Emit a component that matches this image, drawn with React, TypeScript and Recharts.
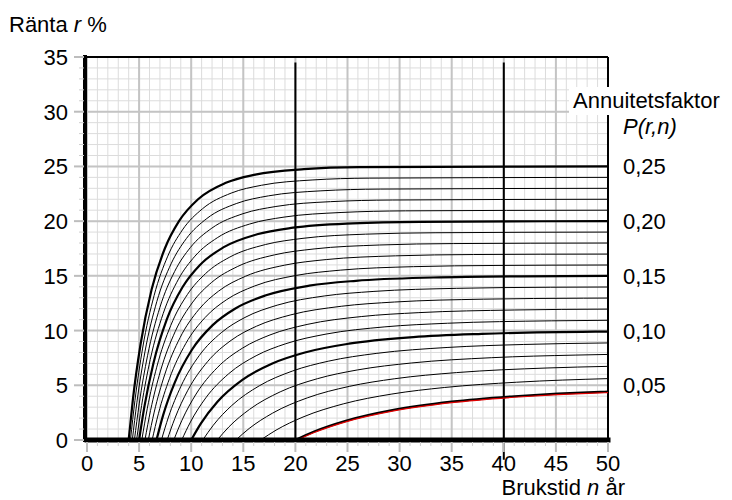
import { CartesianGrid, Line, LineChart, ReferenceLine, XAxis, YAxis } from "recharts";

// tick labels and grid positions
const xTicks = [0, 5, 10, 15, 20, 25, 30, 35, 40, 45, 50];
const yTicks = [0, 5, 10, 15, 20, 25, 30, 35];
const minorN = Array.from({ length: 51 }, (_, i) => i);
const minorR = Array.from({ length: 36 }, (_, i) => i);
const pLevels = [5, 10, 15, 20, 25];
const pLabels = ["0,05", "0,10", "0,15", "0,20", "0,25"];

// curves of constant annuity factor, points read as [n år, r %]
const P05: [number, number][] = [[20, 0], [21.75, 0.75], [24.83, 1.75], [29.43, 2.75], [35, 3.5], [41.03, 4], [49.24, 4.4], [50, 4.42]];
const P06: [number, number][] = [[16.67, 0], [18.14, 0.9], [20.73, 2.1], [24.59, 3.3], [29.26, 4.2], [34.33, 4.8], [41.21, 5.28], [50, 5.61]];
const P07: [number, number][] = [[14.29, 0], [15.56, 1.05], [17.8, 2.45], [21.14, 3.85], [25.17, 4.9], [29.54, 5.6], [35.47, 6.16], [44.15, 6.58], [50, 6.73]];
const P08: [number, number][] = [[12.5, 0], [13.62, 1.2], [15.6, 2.8], [18.54, 4.4], [22.1, 5.6], [25.94, 6.4], [31.17, 7.04], [38.8, 7.52], [46.92, 7.76], [50, 7.82]];
const P09: [number, number][] = [[11.11, 0], [12.12, 1.35], [13.89, 3.15], [16.53, 4.95], [19.71, 6.3], [23.15, 7.2], [27.82, 7.92], [34.64, 8.46], [41.9, 8.73], [50, 8.87]];
const P10: [number, number][] = [[10, 0], [10.92, 1.5], [12.52, 3.5], [14.91, 5.5], [17.79, 7], [20.91, 8], [25.14, 8.8], [31.32, 9.4], [37.88, 9.7], [48.78, 9.9], [50, 9.91]];
const P11: [number, number][] = [[9.09, 0], [9.93, 1.65], [11.4, 3.85], [13.59, 6.05], [16.23, 7.7], [19.08, 8.8], [22.95, 9.68], [28.59, 10.34], [34.59, 10.67], [44.55, 10.89], [50, 10.94]];
const P12: [number, number][] = [[8.33, 0], [9.11, 1.8], [10.47, 4.2], [12.49, 6.6], [14.93, 8.4], [17.56, 9.6], [21.12, 10.56], [26.32, 11.28], [31.85, 11.64], [41.02, 11.88], [50, 11.96]];
const P13: [number, number][] = [[7.69, 0], [8.42, 1.95], [9.68, 4.55], [11.56, 7.15], [13.82, 9.1], [16.27, 10.4], [19.57, 11.44], [24.4, 12.22], [29.53, 12.61], [38.04, 12.87], [47.67, 12.96], [50, 12.97]];
const P14: [number, number][] = [[7.14, 0], [7.82, 2.1], [9.01, 4.9], [10.76, 7.7], [12.88, 9.8], [15.16, 11.2], [18.25, 12.32], [22.76, 13.16], [27.54, 13.58], [35.48, 13.86], [44.46, 13.96], [50, 13.98]];
const P15: [number, number][] = [[6.67, 0], [7.3, 2.25], [8.42, 5.25], [10.07, 8.25], [12.06, 10.5], [14.2, 12], [17.1, 13.2], [21.33, 14.1], [25.81, 14.55], [33.26, 14.85], [41.68, 14.96], [50, 14.99]];
const P16: [number, number][] = [[6.25, 0], [6.85, 2.4], [7.91, 5.6], [9.47, 8.8], [11.34, 11.2], [13.36, 12.8], [16.1, 14.08], [20.08, 15.04], [24.3, 15.52], [31.32, 15.84], [39.25, 15.95], [50, 15.99]];
const P17: [number, number][] = [[5.88, 0], [6.45, 2.55], [7.45, 5.95], [8.93, 9.35], [10.71, 11.9], [12.62, 13.6], [15.21, 14.96], [18.98, 15.98], [22.97, 16.49], [29.61, 16.83], [37.1, 16.95], [50, 16.99]];
const P18: [number, number][] = [[5.56, 0], [6.1, 2.7], [7.05, 6.3], [8.46, 9.9], [10.15, 12.6], [11.96, 14.4], [14.42, 15.84], [18, 16.92], [21.79, 17.46], [28.08, 17.82], [35.19, 17.95], [50, 18]];
const P19: [number, number][] = [[5.26, 0], [5.78, 2.85], [6.69, 6.65], [8.03, 10.45], [9.64, 13.3], [11.37, 15.2], [13.71, 16.72], [17.12, 17.86], [20.73, 18.43], [26.72, 18.81], [33.49, 18.94], [50, 19]];
const P20: [number, number][] = [[5, 0], [5.5, 3], [6.37, 7], [7.65, 11], [9.19, 14], [10.84, 16], [13.08, 17.6], [16.33, 18.8], [19.78, 19.4], [25.49, 19.8], [31.95, 19.94], [50, 20]];
const P21: [number, number][] = [[4.76, 0], [5.24, 3.15], [6.07, 7.35], [7.31, 11.55], [8.78, 14.7], [10.36, 16.8], [12.5, 18.48], [15.62, 19.74], [18.91, 20.37], [24.38, 20.79], [30.56, 20.94], [50, 21]];
const P22: [number, number][] = [[4.55, 0], [5.01, 3.3], [5.81, 7.7], [6.99, 12.1], [8.41, 15.4], [9.93, 17.6], [11.98, 19.36], [14.97, 20.68], [18.13, 21.34], [23.37, 21.78], [29.29, 21.93], [50, 22]];
const P23: [number, number][] = [[4.35, 0], [4.79, 3.45], [5.56, 8.05], [6.7, 12.65], [8.07, 16.1], [9.53, 18.4], [11.5, 20.24], [14.37, 21.62], [17.41, 22.31], [22.45, 22.77], [28.14, 22.93], [50, 23]];
const P24: [number, number][] = [[4.17, 0], [4.6, 3.6], [5.34, 8.4], [6.44, 13.2], [7.75, 16.8], [9.16, 19.2], [11.07, 21.12], [13.83, 22.56], [16.75, 23.28], [21.6, 23.76], [27.08, 23.93], [50, 24]];
const P25: [number, number][] = [[4, 0], [4.41, 3.75], [5.14, 8.75], [6.2, 13.75], [7.47, 17.5], [8.83, 20], [10.66, 22], [13.33, 23.5], [16.15, 24.25], [20.82, 24.75], [26.1, 24.93], [50, 25]];

const curves = [P05, P06, P07, P08, P09, P10, P11, P12, P13, P14, P15, P16, P17, P18, P19, P20, P21, P22, P23, P24, P25];

const font = "'Liberation Sans', Arial, Helvetica, sans-serif";
const fs = 22;
const toRows = (pts: [number, number][]) => pts.map(([n, r]) => ({ n, r }));

function LeftTick({ x, y, payload }: any) {
  const v = payload.value;
  const major = v % 5 === 0;
  return (
    <g>
      <line x1={x - (major ? 13 : 8)} x2={x - 3} y1={y} y2={y} stroke={major ? "#bdbdbd" : "#cfcfcf"} strokeWidth={major ? 2 : 1} />
      {major && (
        <text x={x - 19} y={y + 8} textAnchor="end" fontSize={fs} fill="#000">
          {v}
        </text>
      )}
    </g>
  );
}

function BottomTick({ x, y, payload }: any) {
  const v = payload.value;
  const major = v % 5 === 0;
  return (
    <g>
      <line x1={x} x2={x} y1={y + 2} y2={y + (major ? 12 : 6)} stroke={major ? "#bdbdbd" : "#cfcfcf"} strokeWidth={major ? 2 : 1} />
      {major && (
        <text x={x} y={y + 31} textAnchor="middle" fontSize={fs} fill="#000">
          {v}
        </text>
      )}
    </g>
  );
}

function RightTick({ x, y, payload }: any) {
  const i = pLevels.indexOf(payload.value);
  return (
    <text x={x} y={y + 8} textAnchor="start" fontSize={fs} fill="#000">
      {i >= 0 ? pLabels[i] : ""}
    </text>
  );
}

export default function App() {
  return (
    <div style={{ position: "absolute", left: 0, top: 0, width: 732, height: 500, background: "#fff", fontFamily: font }}>
      <LineChart width={732} height={500} margin={{ top: 57, right: 0, bottom: 0, left: 0 }}>
        <CartesianGrid stroke="#dcdcdc" strokeWidth={1} verticalValues={minorN} horizontalValues={minorR} />
        <CartesianGrid stroke="#c4c4c4" strokeWidth={2} verticalValues={xTicks} horizontalValues={yTicks} />
        <XAxis
          type="number"
          dataKey="n"
          domain={[0, 50]}
          ticks={minorN}
          interval={0}
          height={60}
          tickSize={0}
          tickMargin={0}
          tick={<BottomTick />}
          tickLine={false}
          axisLine={{ stroke: "#000", strokeWidth: 5, strokeLinecap: "square" }}
        />
        <YAxis
          type="number"
          domain={[0, 35]}
          ticks={minorR}
          interval={0}
          width={87}
          tickSize={0}
          tickMargin={0}
          tick={<LeftTick />}
          tickLine={false}
          axisLine={{ stroke: "#000", strokeWidth: 4, strokeLinecap: "square", transform: "translate(-2,0)" }}
        />
        <YAxis
          yAxisId="right"
          orientation="right"
          type="number"
          domain={[0, 35]}
          ticks={pLevels}
          interval={0}
          width={124}
          tickSize={0}
          tickMargin={15}
          axisLine={false}
          tickLine={false}
          tick={<RightTick />}
        />
        <ReferenceLine y={35} stroke="#000" strokeWidth={2} />
        <ReferenceLine x={50} stroke="#000" strokeWidth={2} />
        <ReferenceLine segment={[{ x: 20, y: 0 }, { x: 20, y: 34.5 }]} stroke="#000" strokeWidth={2} />
        <ReferenceLine segment={[{ x: 40, y: -1.8 }, { x: 40, y: 34.5 }]} stroke="#000" strokeWidth={2} ifOverflow="visible" />
        {curves.map((pts, i) => (
          <Line
            key={i}
            data={toRows(pts)}
            dataKey="r"
            type="monotone"
            stroke="#000"
            strokeWidth={i % 5 === 0 ? 2.2 : 1}
            dot={false}
            activeDot={false}
            isAnimationActive={false}
          />
        ))}
        <Line
          data={toRows(P05)}
          dataKey="r"
          type="monotone"
          stroke="#e00000"
          strokeWidth={1.2}
          transform="translate(0,1)"
          dot={false}
          activeDot={false}
          isAnimationActive={false}
        />
        {/* invisible series so the right-hand P axis gets its scale */}
        <Line
          yAxisId="right"
          data={toRows(P25)}
          dataKey="r"
          stroke="none"
          dot={false}
          activeDot={false}
          isAnimationActive={false}
        />
      </LineChart>
      <svg width={732} height={500} style={{ position: "absolute", left: 0, top: 0, pointerEvents: "none", fontFamily: font }}>
        <text x={9} y={32} fontSize={fs} fill="#000">
          Ränta <tspan fontStyle="italic">r</tspan> %
        </text>
        <text x={625} y={495} fontSize={fs} fill="#000" textAnchor="end">
          Brukstid <tspan fontStyle="italic">n</tspan> år
        </text>
        <rect x={569} y={87} width={163} height={28} fill="#fff" />
        <text x={573} y={108} fontSize={fs} fill="#000">
          Annuitetsfaktor
        </text>
        <text x={623} y={134} fontSize={fs} fill="#000" fontStyle="italic">
          P(r,n)
        </text>
      </svg>
    </div>
  );
}
